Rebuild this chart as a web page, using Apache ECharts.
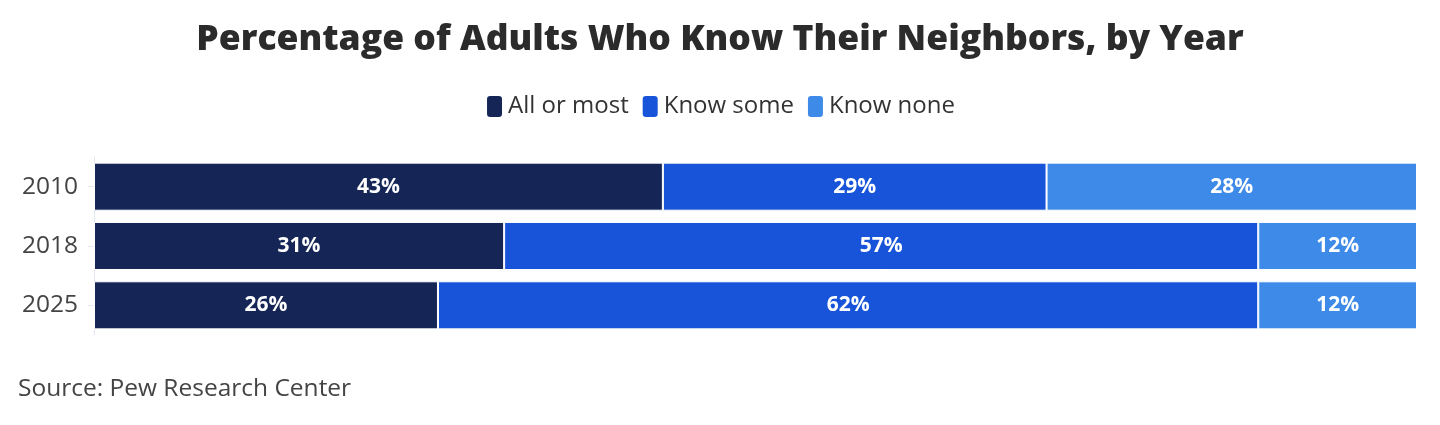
<!DOCTYPE html>
<html><head><meta charset="utf-8">
<script src="https://cdn.jsdelivr.net/npm/echarts@6/dist/echarts.min.js"></script>
<style>html,body{margin:0;padding:0;background:#fff}#c{width:1440px;height:425px}</style>
</head><body><div id="c"></div>
<script>
const years = ['2010','2018','2025'];
const allOrMost = [43,31,26];
const knowSome = [29,57,62];
const knowNone = [28,12,12];
const seriesNames = ['All or most','Know some','Know none'];
const colors = ['#152656','#1854d9','#3e8ae9'];
const FF = 'Open Sans';

const chart = echarts.init(document.getElementById('c'));
const mk = (name, data, color) => ({
  name, type:'bar', stack:'t', data, barCategoryGap:'19%',
  itemStyle:{color, borderColor:'#fff', borderWidth:1},
  label:{show:true, position:'inside', formatter:p=>p.value+'%', color:'#fff', fontWeight:'bold', fontSize:21, fontFamily:FF}
});
chart.setOption({
  animation:false,
  title:{text:'Percentage of Adults Who Know Their Neighbors, by Year', left:'center', top:17,
    textStyle:{fontSize:35.5, fontWeight:800, color:'#2b2b2b', fontFamily:FF}},
  legend:{top:89, left:'center', itemWidth:17, itemHeight:23, itemGap:12,
    icon:'roundRect',
    textStyle:{fontSize:24, color:'#333', fontFamily:FF, padding:[0,0,0,0]},
    data:seriesNames},
  grid:{left:94, right:23, top:157, bottom:90},
  xAxis:{type:'value', min:0, max:100, show:false},
  yAxis:{type:'category', data:years, inverse:true,
    axisLine:{show:true, lineStyle:{color:'#e3e8f0'}},
    axisTick:{show:true, length:6, lineStyle:{color:'#e3e8f0'}, alignWithLabel:true},
    axisLabel:{fontSize:24.5, color:'#444', fontFamily:FF, margin:16}},
  graphic:[{type:'text', left:18, top:377, style:{text:'Source: Pew Research Center', fontSize:24.5, fill:'#444', fontFamily:FF}}],
  series:[mk(seriesNames[0], allOrMost, colors[0]), mk(seriesNames[1], knowSome, colors[1]), mk(seriesNames[2], knowNone, colors[2])]
});
</script></body></html>
